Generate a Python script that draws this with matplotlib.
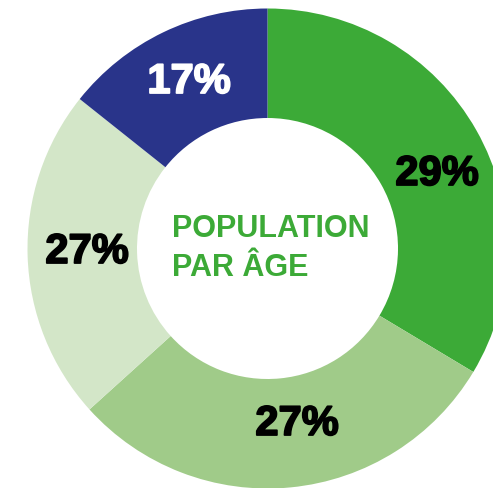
import matplotlib
matplotlib.use("Agg")
import matplotlib.pyplot as plt
import matplotlib.patheffects as pe

# slice sizes as drawn in the picture (the graphic is not strictly proportional)
slice_sizes = [33.6, 29.7, 22.4, 14.3]
slice_labels = ["29%", "27%", "27%", "17%"]
slice_colors = ["#3caa37", "#a0cb89", "#d3e6c8", "#29348a"]
label_colors = ["black", "black", "black", "white"]
center_title = ["POPULATION", "PAR ÂGE"]

W, H = 493, 489
fig = plt.figure(figsize=(W / 100, H / 100), dpi=100)
ax = fig.add_axes([0, 0, 1, 1])

cx, cy = 267.5, H - 249.5
r_out, r_in = 240, 130.5

ax.pie(slice_sizes, colors=slice_colors, startangle=90, counterclock=False,
       radius=r_out, center=(cx, cy),
       wedgeprops=dict(width=r_out - r_in, linewidth=0))

# label positions in picture pixels (x, y from top)
label_pos = [(437, 175), (297, 425), (87, 253), (189, 83)]
for txt, (x, y), c in zip(slice_labels, label_pos, label_colors):
    ax.text(x, H - y, txt, color=c, fontsize=30, fontweight="bold",
            family="Liberation Sans", ha="center", va="center",
            path_effects=[pe.withStroke(linewidth=1.3, foreground=c)])

green_txt = dict(color="#3caa37", fontsize=22, fontweight="bold",
                 family="Liberation Sans", ha="left", va="center")
ax.text(172, H - 229, center_title[0], **green_txt)
ax.text(172, H - 268, center_title[1], **green_txt)

ax.set_xlim(0, W)
ax.set_ylim(0, H)
ax.set_aspect("equal")
ax.axis("off")

fig.savefig("out.png", dpi=100)
